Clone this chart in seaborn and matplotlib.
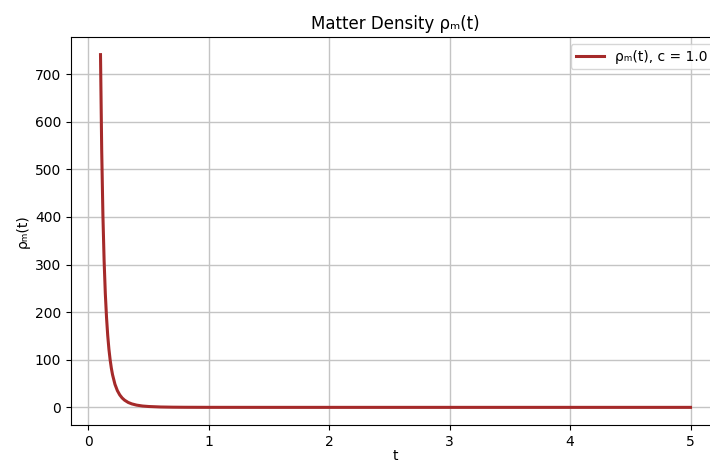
import matplotlib
matplotlib.use("Agg")
import matplotlib.pyplot as plt
import seaborn as sns
import pandas as pd

# values
t_values = [0.10, 0.11, 0.12, 0.13, 0.14, 0.15, 0.16, 0.17, 0.18, 0.19, 0.20,
            0.22, 0.24, 0.26, 0.28, 0.30, 0.33, 0.36, 0.40, 0.45, 0.50,
            0.60, 0.70, 0.80, 1.00, 1.50, 2.00, 3.00, 4.00, 5.00]
rho_values = [741, 540, 404, 308, 239, 189, 151, 122, 100, 82.4, 68.6,
              48.5, 35.2, 26.1, 19.7, 15.1, 10.3, 7.3, 4.7, 2.8, 1.8,
              0.77, 0.36, 0.18, 0.05, 0.003, 0.0, 0.0, 0.0, 0.0]
series_label = "ρₘ(t), c = 1.0"
title = "Matter Density ρₘ(t)"
x_label = "t"
y_label = "ρₘ(t)"

df = pd.DataFrame({"t": t_values, "rho": rho_values})

fig = plt.figure(figsize=(7.10, 4.62), dpi=100)
ax = fig.add_axes([71 / 710, (462 - 425) / 462, (720 - 71) / 710, (425 - 37) / 462])

sns.lineplot(data=df, x="t", y="rho", ax=ax, color="#a52a2a", linewidth=2.2,
             label=series_label)

ax.set_title(title, fontsize=12)
ax.set_xlabel(x_label, fontsize=10, labelpad=0)
ax.set_ylabel(y_label, fontsize=10)
ax.tick_params(labelsize=10)
ax.grid(True, color="#c4c4c4", linewidth=1.0)
ax.set_yticks([0, 100, 200, 300, 400, 500, 600, 700])
ax.legend(loc="upper right", fontsize=10)

fig.savefig("out.png", dpi=100)
